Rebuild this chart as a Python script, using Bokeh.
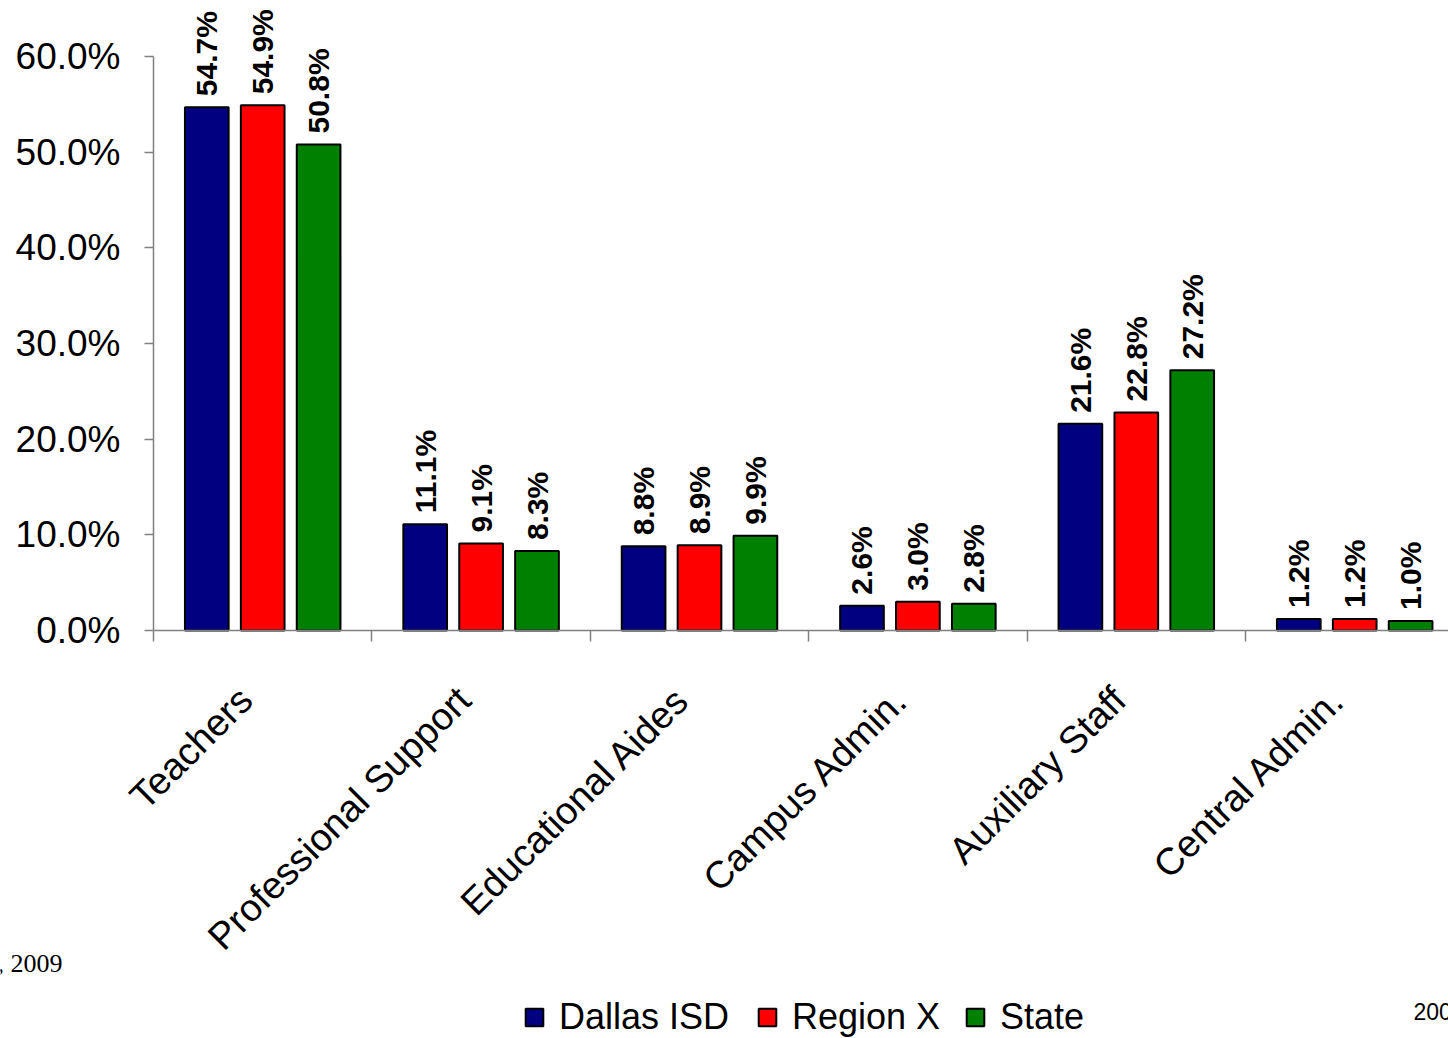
import math
from bokeh.plotting import figure
from bokeh.models import Range1d, FixedTicker, Legend, LegendItem, Label
from bokeh.core.properties import value
from bokeh.embed import file_html
from bokeh.resources import INLINE

categories = ["Teachers", "Professional Support", "Educational Aides",
              "Campus Admin.", "Auxiliary Staff", "Central Admin."]
dallas = [54.7, 11.1, 8.8, 2.6, 21.6, 1.2]
region = [54.9, 9.1, 8.9, 3.0, 22.8, 1.2]
state = [50.8, 8.3, 9.9, 2.8, 27.2, 1.0]
series_names = ["Dallas ISD", "Region X", "State"]
series_values = [dallas, region, state]
colors = ["#000080", "#FF0000", "#008000"]
y_ticks = [0, 10, 20, 30, 40, 50, 60]
y_tick_labels = ["0.0%", "10.0%", "20.0%", "30.0%", "40.0%", "50.0%", "60.0%"]

FONT = "Liberation Sans"
W, H = 1448, 1038
# pixel geometry of the frame (frame covers the whole canvas)
x0_px, px_per_x = 153.0, 218.4
y0_px, px_per_y = 630.0, 574.0 / 60.0

p = figure(width=W, height=H, output_backend="svg", toolbar_location=None,
           x_range=Range1d(-x0_px / px_per_x, (W - x0_px) / px_per_x),
           y_range=Range1d(-(H - y0_px) / px_per_y, y0_px / px_per_y),
           min_border=0, min_border_left=0, min_border_right=0,
           min_border_top=0, min_border_bottom=0)
p.outline_line_color = None
p.xgrid.visible = False
p.ygrid.visible = False
p.background_fill_color = "white"
p.border_fill_color = "white"

n = len(categories)
offsets = [-0.256, 0.0, 0.256]
pad = 11 / px_per_y
renderers = []
for j, (vals, col) in enumerate(zip(series_values, colors)):
    xs = [i + 0.5 + offsets[j] for i in range(n)]
    r = p.vbar(x=xs, top=vals, bottom=0, width=0.2, fill_color=col,
               line_color="black", line_width=2)
    renderers.append(r)
    p.text(x=xs, y=[v + pad for v in vals], text=[f"{v:.1f}%" for v in vals],
           angle=math.pi / 2, text_align="left", text_baseline="middle",
           text_font=value(FONT), text_font_style="bold",
           text_font_size="30px", text_color="black")

# category labels (rotated 45 degrees, text end anchored under category centre)
p.text(x=[i + 0.5 - 17 / px_per_x for i in range(n)],
       y=[-63 / px_per_y] * n, text=categories, angle=math.pi / 4,
       text_align="right", text_baseline="alphabetic",
       text_font=value(FONT), text_font_size="38px", text_color="black")

axis_col = "#808080"

# x axis at y = 0
xa = p.xaxis[0]
xa.fixed_location = 0
xa.bounds = (0, 6)
xa.ticker = FixedTicker(ticks=list(range(n + 1)), minor_ticks=[])
xa.major_label_text_font_size = "0px"
xa.major_label_text_alpha = 0
xa.major_tick_in = 0
xa.major_tick_out = 11
xa.major_tick_line_color = axis_col
xa.major_tick_line_width = 1.5
xa.axis_line_color = axis_col
xa.axis_line_width = 1.5

# y axis at x = 0
ya = p.yaxis[0]
ya.fixed_location = 0
ya.ticker = FixedTicker(ticks=y_ticks, minor_ticks=[])
ya.major_label_overrides = {t: l for t, l in zip(y_ticks, y_tick_labels)}
ya.bounds = (0, 60)
ya.major_tick_in = 0
ya.major_tick_out = 9
ya.major_tick_line_color = axis_col
ya.major_tick_line_width = 1.5
ya.axis_line_color = axis_col
ya.axis_line_width = 1.5
ya.major_label_standoff = 24
ya.major_label_text_font = FONT
ya.major_label_text_font_size = "37px"
ya.major_label_text_color = "black"

legend_x = [523, 756, 964]
for nm, r, lx in zip(series_names, renderers, legend_x):
    lg = Legend(items=[LegendItem(label=nm, renderers=[r])],
                orientation="horizontal", location=(lx, 0))
    lg.glyph_width = 22
    lg.glyph_height = 22
    lg.label_standoff = 14
    lg.padding = 0
    lg.margin = 0
    lg.border_line_alpha = 0
    lg.background_fill_alpha = 0
    lg.label_text_font = FONT
    lg.label_text_font_size = "36px"
    lg.label_text_color = "black"
    p.add_layout(lg)

p.add_layout(Label(x=62, y=H - 963, x_units="screen", y_units="screen",
                   text=", 2009", text_align="right", text_baseline="middle",
                   text_font="Liberation Serif", text_font_size="26px",
                   text_color="black"))
p.add_layout(Label(x=1413, y=H - 1011, x_units="screen", y_units="screen",
                   text="2009", text_align="left", text_baseline="middle",
                   text_font=FONT, text_font_size="23px", text_color="black"))

open("out.html", "w").write(file_html(p, INLINE))
